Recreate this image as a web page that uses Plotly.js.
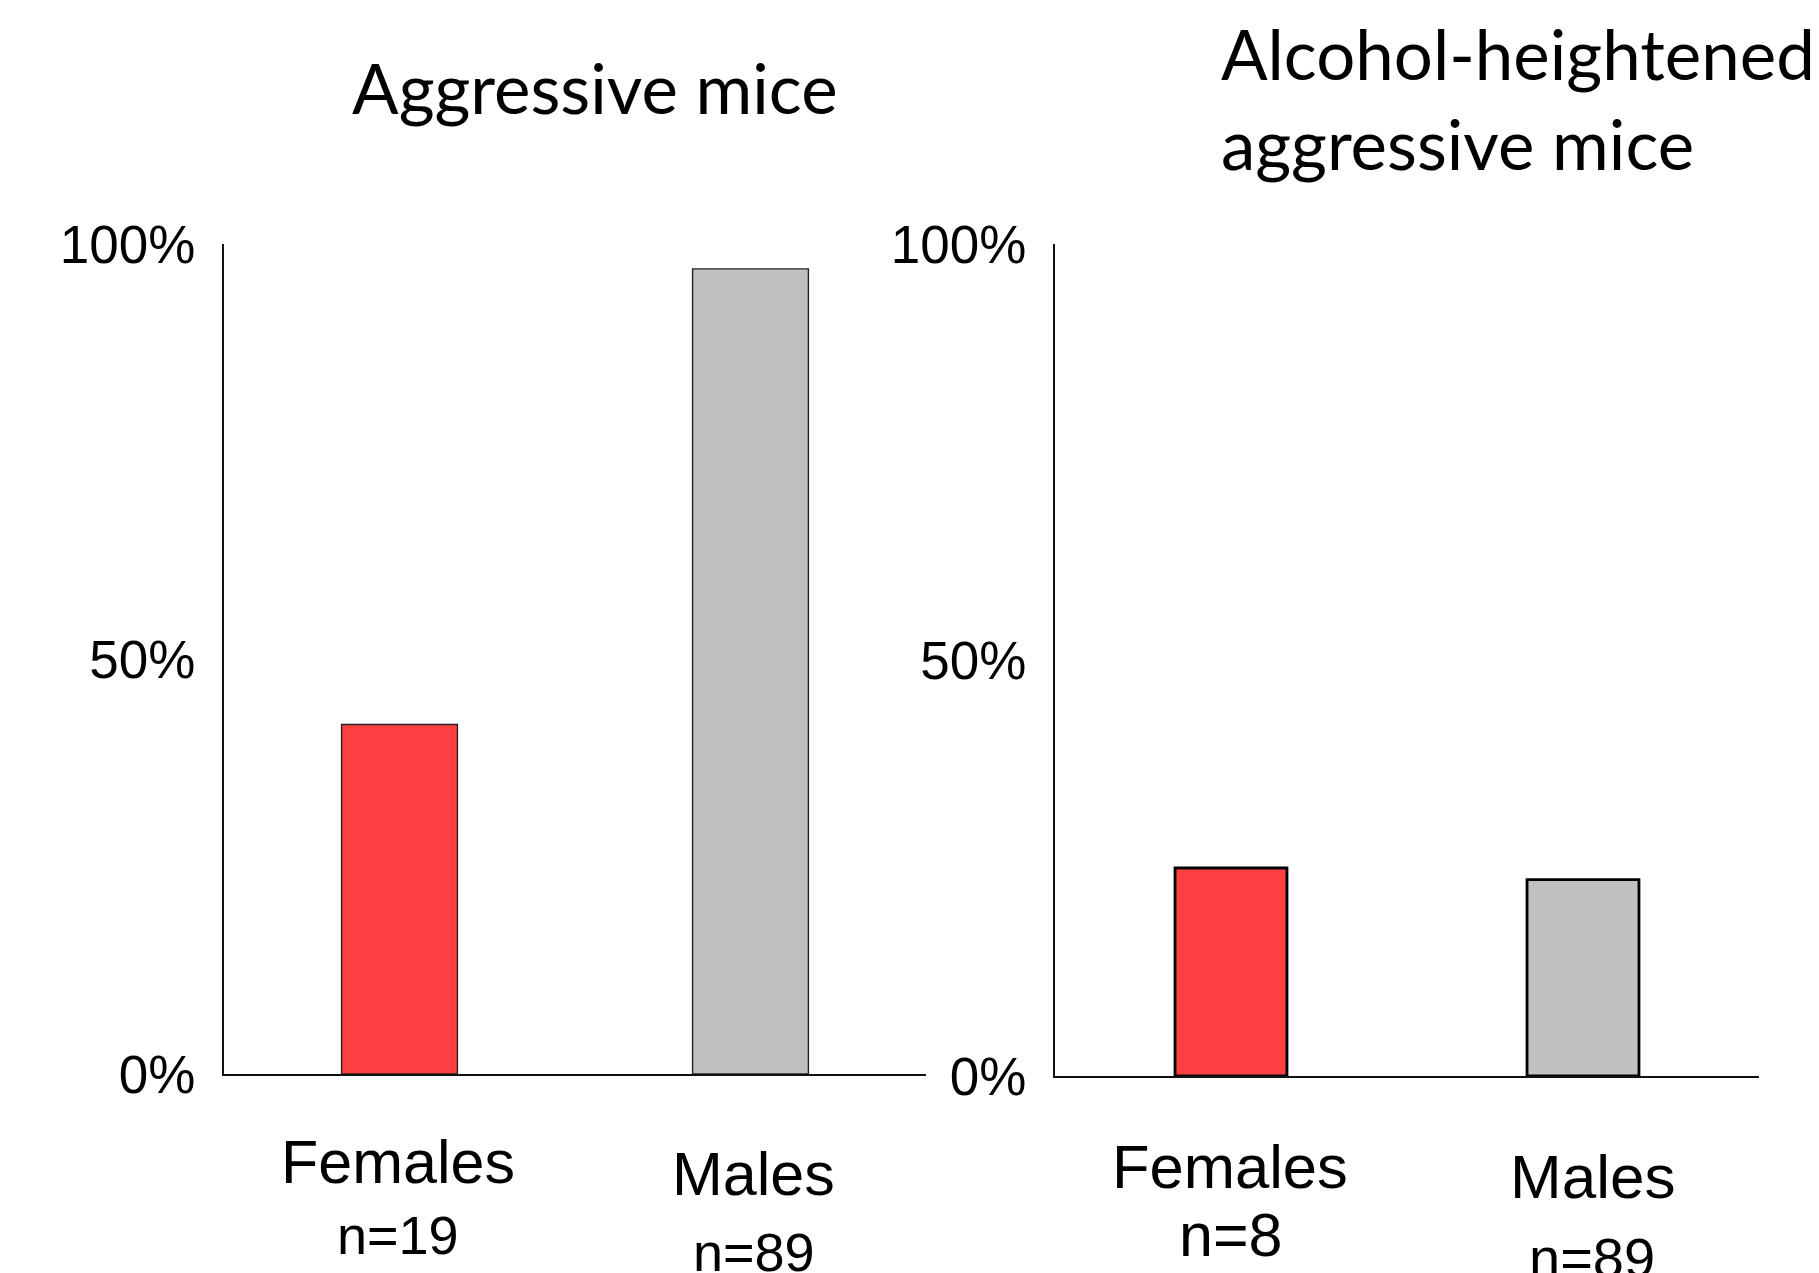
<!DOCTYPE html>
<html>
<head>
<meta charset="utf-8">
<script src="https://cdn.plot.ly/plotly-3.0.1.min.js"></script>
<style>
  html, body { margin: 0; padding: 0; background: #ffffff; }
  #chart { width: 1819px; height: 1273px; }
</style>
</head>
<body>
<div id="chart"></div>
<script>
// Share of mice showing each behaviour, by sex
const categories = ['Females', 'Males'];

const aggressiveTitle = 'Aggressive mice';
const aggressivePct = [42.1, 97.0];
const aggressiveN = ['n=19', 'n=89'];

const alcoholTitle = 'Alcohol-heightened<br>aggressive mice';
const alcoholPct = [25.0, 23.6];
const alcoholN = ['n=8', 'n=89'];

const yTickVals = [0, 50, 100];
const yTickText = ['0%', '50%', '100%'];

const barColors = ['#FF4043', '#C0C0C0'];

// ---- layout helpers ----
const W = 1819, H = 1273;
const px2x = p => p / W;
const px2y = p => 1 - p / H;

const ARIAL = 'Liberation Sans, Arial, sans-serif';
const TITLE_FONT = 'Lato, Open Sans, sans-serif';

const traces = [
  {
    type: 'bar',
    x: categories,
    y: aggressivePct,
    xaxis: 'x', yaxis: 'y',
    width: 0.33,
    marker: { color: barColors, line: { color: '#222222', width: 1.4 } },
    hoverinfo: 'skip'
  },
  {
    type: 'bar',
    x: categories,
    y: alcoholPct,
    xaxis: 'x2', yaxis: 'y2',
    width: 0.318,
    marker: { color: barColors, line: { color: '#000000', width: 2.8 } },
    hoverinfo: 'skip'
  }
];

function xAxis(domain, lw) {
  return {
    domain: domain,
    range: [-0.5, 1.5],
    type: 'category',
    showline: true, linecolor: '#111111', linewidth: lw,
    showgrid: false, zeroline: false,
    showticklabels: false, ticks: '',
    fixedrange: true
  };
}
function yAxis(domain, lw, anchor) {
  return {
    domain: domain,
    anchor: anchor,
    range: [0, 100],
    showline: true, linecolor: '#111111', linewidth: lw,
    showgrid: false, zeroline: false,
    tickmode: 'array', tickvals: yTickVals, ticktext: yTickText,
    ticks: 'outside', ticklen: 16, tickcolor: 'rgba(0,0,0,0)',
    tickfont: { family: ARIAL, size: 53, color: '#000000' },
    fixedrange: true
  };
}

const annotations = [];

// panel titles
annotations.push({
  xref: 'paper', yref: 'paper',
  x: px2x(595), y: px2y(87),
  xanchor: 'center', yanchor: 'middle',
  text: aggressiveTitle, showarrow: false,
  font: { family: TITLE_FONT, size: 69, color: '#000000' }
});
annotations.push({
  xref: 'paper', yref: 'paper',
  x: px2x(1219), y: px2y(99),
  xanchor: 'left', yanchor: 'middle', align: 'left',
  text: alcoholTitle, showarrow: false,
  font: { family: TITLE_FONT, size: 69, color: '#000000' }
});

// category and sample-size labels under each bar
function catLabels(xref, nLabels, opts) {
  categories.forEach((c, i) => {
    const o = opts[i];
    annotations.push({
      xref: xref, yref: 'paper', x: c, y: px2y(o.nameY),
      xshift: o.dx, xanchor: 'center', yanchor: 'middle',
      text: c, showarrow: false,
      font: { family: ARIAL, size: o.nameSize, color: '#000000' }
    });
    annotations.push({
      xref: xref, yref: 'paper', x: c, y: px2y(o.nY),
      xshift: o.dx, xanchor: 'center', yanchor: 'middle',
      text: nLabels[i], showarrow: false,
      font: { family: ARIAL, size: o.nSize, color: '#000000' }
    });
  });
}
catLabels('x', aggressiveN, [
  { nameY: 1162, nY: 1235, dx: -2, nameSize: 61, nSize: 54 },
  { nameY: 1174, nY: 1252, dx: 3, nameSize: 61, nSize: 54 }
]);
catLabels('x2', alcoholN, [
  { nameY: 1166, nY: 1235, dx: -1, nameSize: 61.5, nSize: 61 },
  { nameY: 1176, nY: 1257, dx: 9, nameSize: 62, nSize: 56 }
]);

const layout = {
  width: W, height: H,
  margin: { l: 0, r: 0, t: 0, b: 0 },
  paper_bgcolor: '#ffffff', plot_bgcolor: 'rgba(0,0,0,0)',
  showlegend: false,
  xaxis: xAxis([px2x(224), px2x(926)], 2),
  yaxis: yAxis([px2y(1074), px2y(244)], 2, 'x'),
  xaxis2: xAxis([px2x(1055), px2x(1759)], 2),
  yaxis2: yAxis([px2y(1076), px2y(244)], 2, 'x2'),
  annotations: annotations
};
layout.xaxis.anchor = 'y';
layout.xaxis2.anchor = 'y2';

Plotly.newPlot('chart', traces, layout, { displayModeBar: false, staticPlot: true });
</script>
</body>
</html>
